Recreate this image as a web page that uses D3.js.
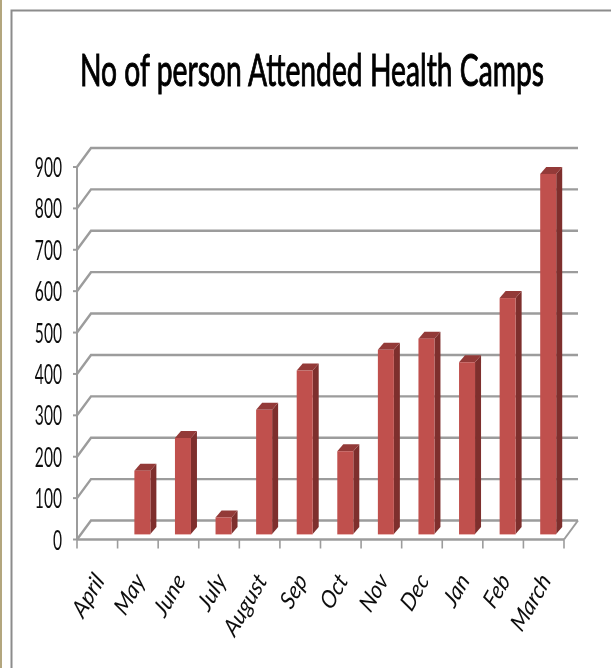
<!DOCTYPE html>
<html><head><meta charset="utf-8">
<script src="https://cdn.jsdelivr.net/npm/d3@7/dist/d3.min.js"></script>
<style>html,body{margin:0;padding:0;background:#fff}svg{display:block}text{font-family:Lato,"Open Sans",sans-serif}</style>
</head><body><svg id="c" width="611" height="668"></svg>
<script>
const titleText = "No of person Attended Health Camps";
const categories = ["April","May","June","July","August","Sep","Oct","Nov","Dec","Jan","Feb","March"];
const values = [0,153,232,40,300,395,200,445,472,415,570,870];
const yTicks = [0,100,200,300,400,500,600,700,800,900];

const svg = d3.select("#c");
const defs = svg.append("defs");
defs.append("filter").attr("id","soft").append("feGaussianBlur").attr("stdDeviation",0.5);

const x = d3.scaleBand().domain(categories).range([77,564]);
const y = d3.scaleLinear().domain([0,900]).range([539.5,167]);
const depthX = 14, depthY = -19;
const barW = 16, barDX = 6, barDY = -7, baseDX = 4.5, baseDY = -5.5;
const grid = "#9c9c9c";

// backdrop frame
svg.append("rect").attr("x",0).attr("y",0).attr("width",2).attr("height",668).attr("fill","#b3a67e");
svg.append("path").attr("d","M11.5,668V10.5H611").attr("fill","none").attr("stroke","#8c8c8c").attr("stroke-width",2);

svg.append("text").attr("text-anchor","middle")
  .attr("font-size",45).attr("fill","#000").attr("stroke","#000").attr("stroke-width",1).attr("filter","url(#soft)")
  .attr("transform","translate(312,86) scale(0.628,1)")
  .text(titleText);

const g = svg.append("g").attr("filter","url(#soft)");
// floor + walls
yTicks.forEach(t=>{
  g.append("path").attr("d",`M${x.range()[0]},${y(t)}l${depthX},${depthY}H${x.range()[1]+depthX}`)
   .attr("fill","none").attr("stroke",grid).attr("stroke-width",2.4);
});
g.append("path").attr("d",`M${x.range()[1]},${y(0)}l${depthX},${depthY}`).attr("fill","none").attr("stroke",grid).attr("stroke-width",2);
g.append("path").attr("d",`M${x.range()[0]},${y(0)}V${y(900)}`).attr("fill","none").attr("stroke",grid).attr("stroke-width",2);
g.append("path").attr("d",`M${x.range()[0]},${y(0)}H${x.range()[1]}`).attr("fill","none").attr("stroke",grid).attr("stroke-width",2.6);

// ticks
yTicks.forEach(t=>g.append("line").attr("x1",73).attr("x2",77).attr("y1",y(t)).attr("y2",y(t)).attr("stroke",grid).attr("stroke-width",2));
[...categories.map(c=>x(c)),x.range()[1]].forEach(px=>g.append("line").attr("x1",px).attr("x2",px).attr("y1",y(0)).attr("y2",y(0)+9).attr("stroke",grid).attr("stroke-width",1.6));

// tick labels
svg.append("g").attr("filter","url(#soft)").selectAll("text").data(yTicks).join("text")
  .attr("text-anchor","end").attr("font-size",26).attr("fill","#111")
  .attr("transform",t=>`translate(62,${y(t)+10}) scale(0.6,1)`).text(d=>d);
svg.append("g").attr("filter","url(#soft)").selectAll("text").data(categories).join("text")
  .attr("text-anchor","end").attr("font-size",22.5).attr("font-style","italic").attr("fill","#111")
  .attr("transform",c=>`translate(${x(c)+x.bandwidth()/2+8},${581}) rotate(-60) skewX(-8)`).text(d=>d);

// bars
const bars = svg.append("g").selectAll("g").data(categories.map((c,i)=>({c,v:values[i]})).filter(d=>d.v>0)).join("g");
const h = v => y(0)-y(v);
const bx = d => x(d.c)+x.bandwidth()/2-8+baseDX;
const base = y(0)+baseDY;
bars.append("path").attr("fill","#7e2f2d")
  .attr("d",d=>`M${bx(d)+barW},${base}l${barDX},${barDY}v${-h(d.v)}l${-barDX},${-barDY}Z`);
bars.append("path").attr("fill","#933a38")
  .attr("d",d=>`M${bx(d)},${base-h(d.v)}l${barDX},${barDY}h${barW}l${-barDX},${-barDY}Z`);
bars.append("rect").attr("fill","#c0504d")
  .attr("x",bx).attr("y",d=>base-h(d.v)).attr("width",barW).attr("height",d=>h(d.v));
bars.append("line").attr("stroke","#eab9b7").attr("stroke-width",1)
  .attr("x1",bx).attr("x2",d=>bx(d)+barW).attr("y1",base+0.5).attr("y2",base+0.5);
</script></body></html>
